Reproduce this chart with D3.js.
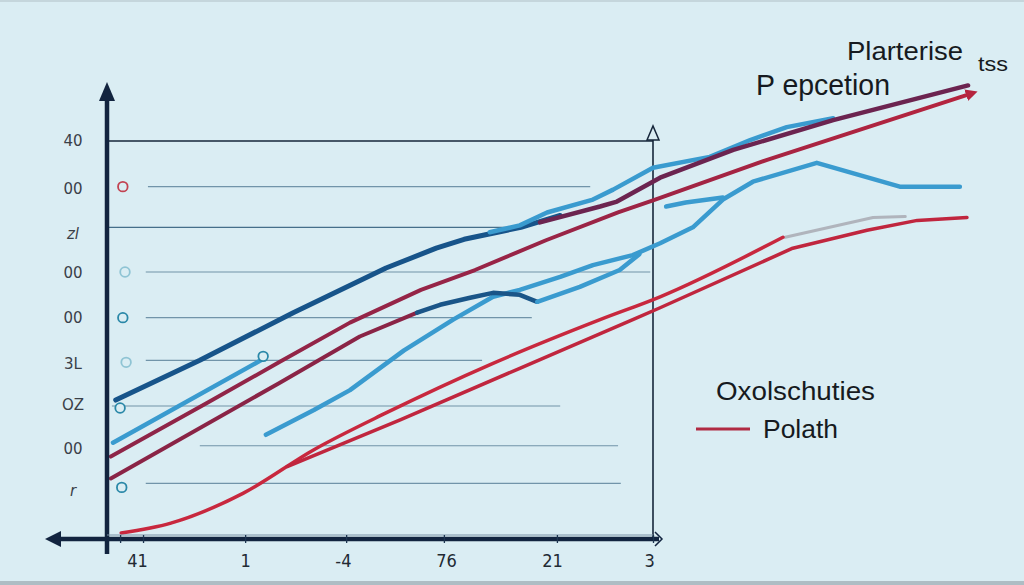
<!DOCTYPE html>
<html><head><meta charset="utf-8">
<script src="https://cdn.jsdelivr.net/npm/d3@7"></script>
<style>
html,body{margin:0;padding:0;background:#daedf3;}
svg{display:block;}
</style></head>
<body><svg id="c" width="1024" height="585"></svg>
<script>
// ---------- data ----------
const yTickValues = [40, 35.2, 30.7, 26.7, 22.2, 17.6, 13.4, 9.0, 4.8];
const yTickLabels = ["40", "00", "zl", "00", "00", "3L", "OZ", "00", "r"];
const xTickValues = [2.4, 6.6, 25.3, 43.8, 61.7, 82.4, 100];
const xLabelValues = [5.5, 25.3, 43.2, 62.1, 81.5, 99.3];
const xTickLabels = ["41", "1", "-4", "76", "21", "3"];

const navyUpperX = [1.6, 17.0, 34.1, 51.1, 60.3, 65.4, 75.8, 83.0];
const navyUpperY = [13.9, 17.9, 22.7, 27.2, 29.2, 30.1, 31.3, 32.5];

const blueUpperX = [70.1, 75.6, 80.6, 89.0, 92.7, 100.0, 110.4, 117.8, 124.5, 133.0];
const blueUpperY = [30.8, 31.5, 32.8, 34.1, 35.1, 37.3, 38.4, 40.1, 41.4, 42.3];

const purpleX = [79.3, 90.3, 93.4, 101.3, 114.7, 133.0, 157.7];
const purpleY = [31.8, 33.4, 33.9, 36.3, 39.1, 42.1, 45.6];

const crimsonX = [0.7, 18.3, 31.5, 44.5, 57.5, 67.4, 80.4, 93.6, 100.4, 120.9, 158.4];
const crimsonY = [8.2, 13.6, 17.7, 21.7, 25.0, 27.0, 30.0, 32.8, 34.1, 38.1, 44.8];

const maroonLowX = [0.7, 31.5, 46.3, 56.8];
const maroonLowY = [6.0, 15.6, 20.3, 22.7];
const navyMidX = [56.8, 61.0, 66.5, 70.7, 75.6, 78.8];
const navyMidY = [22.7, 23.5, 24.2, 24.7, 24.5, 23.8];
const blueMidBX = [78.8, 86.6, 93.9, 97.5];
const blueMidBY = [23.8, 25.3, 27.0, 28.6];

const blueMidAX = [29.1, 37.9, 44.5, 54.4, 63.4, 70.7, 75.6, 83.0, 89.0, 96.3, 101.3, 107.3, 112.8, 118.3, 130.0, 145.2, 156.2];
const blueMidAY = [10.4, 12.9, 14.9, 18.9, 22.0, 24.3, 25.0, 26.3, 27.5, 28.5, 29.7, 31.3, 34.1, 35.9, 37.8, 35.4, 35.4];

const blueShortX = [1.1, 28.8];
const blueShortY = [9.6, 18.1];

const stubX = [102.4, 106.0, 112.8];
const stubY = [33.4, 33.8, 34.3];

const redAX = [2.6, 11.7, 24.9, 37.9, 51.1, 70.7, 90.3, 101.3, 123.8];
const redAY = [0.5, 1.5, 4.5, 8.9, 12.6, 17.6, 22.0, 24.3, 30.3];
const grayX = [124.2, 140.3, 146.2];
const grayY = [30.3, 32.3, 32.4];
const redBX = [33.0, 53.7, 75.6, 96.3, 101.3, 125.6, 139.2, 148.4, 157.5];
const redBY = [7.2, 11.9, 17.1, 22.0, 23.2, 29.2, 31.0, 32.0, 32.3];

const gridY = [35.4, 31.3, 26.8, 22.2, 17.9, 13.3, 9.3, 5.5];
const gridX0 = [7.5, 0, 7.1, 7.1, 7.1, 0.9, 17.0, 7.1];
const gridX1 = [88.5, 75.6, 99.5, 77.8, 68.7, 83.0, 93.6, 94.1];

const markerX = [2.9, 3.3, 2.9, 3.5, 2.4, 2.7, 28.6];
const markerY = [35.4, 26.8, 22.2, 17.7, 13.1, 5.1, 18.3];
const markerKind = ["red", "light", "teal", "light", "teal", "teal", "teal"];

const titleTexts = ["Plarterise", "tss", "P epcetion"];
const legendTexts = ["Oxolschuties", "Polath"];

// ---------- drawing ----------
const svg = d3.select("#c");
const x = d3.scaleLinear().domain([0, 100]).range([107, 653]);
const y = d3.scaleLinear().domain([0, 40]).range([538, 141]);
const font = "'Liberation Sans', Arial, sans-serif";

svg.append("rect").attr("width", 1024).attr("height", 585).attr("fill", "#daedf3");
svg.append("rect").attr("x", 0).attr("y", 0).attr("width", 1024).attr("height", 2).attr("fill", "#c5d6dc");
svg.append("rect").attr("x", 0).attr("y", 581).attr("width", 1024).attr("height", 4).attr("fill", "#aebdc4");

const defs = svg.append("defs");
const grad = defs.append("linearGradient").attr("id", "crim").attr("gradientUnits", "userSpaceOnUse")
  .attr("x1", x(0)).attr("x2", x(158)).attr("y1", 0).attr("y2", 0);
grad.append("stop").attr("offset", "0%").attr("stop-color", "#8e2548");
grad.append("stop").attr("offset", "55%").attr("stop-color", "#9a2446");
grad.append("stop").attr("offset", "100%").attr("stop-color", "#b5243e");
defs.append("marker").attr("id", "arr").attr("viewBox", "0 0 10 10").attr("refX", 5).attr("refY", 5)
  .attr("markerWidth", 3).attr("markerHeight", 3).attr("orient", "auto")
  .append("path").attr("d", "M0,0 L10,5 L0,10 z").attr("fill", "#b5243e");

// gridlines
const g = svg.append("g");
gridY.forEach((v, i) => {
  g.append("line").attr("x1", x(gridX0[i])).attr("x2", x(gridX1[i]))
    .attr("y1", y(v)).attr("y2", y(v))
    .attr("stroke", "#2c5a78").attr("stroke-width", i === 1 ? 1.4 : 1.1)
    .attr("opacity", i === 1 ? 0.85 : 0.6);
});
// top frame line and right vertical line
svg.append("line").attr("x1", x(0)).attr("x2", x(100)).attr("y1", y(40)).attr("y2", y(40))
  .attr("stroke", "#16263a").attr("stroke-width", 1.6);
svg.append("line").attr("x1", x(100)).attr("x2", x(100)).attr("y1", y(40) - 14).attr("y2", y(0) + 2)
  .attr("stroke", "#16263a").attr("stroke-width", 1.6);
svg.append("path")
  .attr("d", `M${x(100) - 6},${y(40) - 1} L${x(100)},${y(40) - 15} L${x(100) + 6},${y(40) - 1} Z`)
  .attr("fill", "#daedf3").attr("stroke", "#16263a").attr("stroke-width", 1.5);

// lines
const line = d3.line().x(d => x(d[0])).y(d => y(d[1]));
const smooth = d3.line().x(d => x(d[0])).y(d => y(d[1])).curve(d3.curveMonotoneX);
function draw(xs, ys, color, w, gen, extra) {
  const p = svg.append("path").datum(xs.map((v, i) => [v, ys[i]]))
    .attr("d", gen || line).attr("fill", "none").attr("stroke", color)
    .attr("stroke-width", w).attr("stroke-linejoin", "round").attr("stroke-linecap", "round");
  if (extra) extra(p);
  return p;
}
draw(grayX, grayY, "#b0b4bc", 3);
draw(redAX, redAY, "#c8283e", 3.5, smooth);
draw(redBX, redBY, "#c0263e", 3.5);
draw(blueMidAX, blueMidAY, "#3a9bcf", 4.5);
draw(stubX, stubY, "#3a9bcf", 4.5);
draw(maroonLowX, maroonLowY, "#8a2446", 4);
draw(navyMidX, navyMidY, "#1a5588", 4.5);
draw(blueMidBX, blueMidBY, "#3a9bcf", 4.5);
draw(crimsonX, crimsonY, "url(#crim)", 4, null, p => p.attr("marker-end", "url(#arr)"));
draw(blueShortX, blueShortY, "#3a9bcf", 4.5);
draw(navyUpperX, navyUpperY, "#17548a", 5);
draw(blueUpperX, blueUpperY, "#3a9bcf", 4.5);
draw(purpleX, purpleY, "#6c2450", 4.5);

// markers
const mColor = { red: "#c24352", light: "#8fc4d4", teal: "#2a88a8" };
markerX.forEach((v, i) => {
  svg.append("circle").attr("cx", x(v)).attr("cy", y(markerY[i])).attr("r", 4.8)
    .attr("fill", "#daedf3").attr("stroke", mColor[markerKind[i]]).attr("stroke-width", 1.8);
});

// y axis
svg.append("line").attr("x1", x(0)).attr("x2", x(0)).attr("y1", 98).attr("y2", y(0) + 16)
  .attr("stroke", "#12243f").attr("stroke-width", 4.5);
svg.append("path").attr("d", `M${x(0)},82 L${x(0) - 8},101 L${x(0) + 8},101 Z`).attr("fill", "#12243f");
const yAxis = d3.axisLeft(y).tickValues(yTickValues).tickSize(0).tickPadding(24)
  .tickFormat((d, i) => yTickLabels[i]);
const ya = svg.append("g").attr("transform", `translate(${x(0)},0)`).call(yAxis);
ya.select(".domain").remove();
ya.selectAll("text").attr("font-family", "'DejaVu Sans', sans-serif").attr("font-size", 15).attr("fill", "#3a4048")
  .attr("text-anchor", "middle").attr("dx", 0).attr("x", -34)
  .attr("font-style", (d, i) => (i === 2 || i === 8) ? "italic" : "normal");

// x axis
svg.append("line").attr("x1", 58).attr("x2", x(100) + 6).attr("y1", y(0) + 1).attr("y2", y(0) + 1)
  .attr("stroke", "#12243f").attr("stroke-width", 4.5);
svg.append("line").attr("x1", x(0)).attr("x2", x(100)).attr("y1", y(0) - 3).attr("y2", y(0) - 3)
  .attr("stroke", "#7c93a6").attr("stroke-width", 1);
svg.append("path").attr("d", `M45,${y(0) + 1} L61,${y(0) - 7} L61,${y(0) + 9} Z`).attr("fill", "#12243f");
svg.append("path").attr("d", `M${x(100) + 2},${y(0) - 6} L${x(100) + 9},${y(0) + 1} L${x(100) + 2},${y(0) + 8}`)
  .attr("fill", "none").attr("stroke", "#12243f").attr("stroke-width", 1.5);
const xTickAxis = d3.axisBottom(x).tickValues(xTickValues).tickSize(8).tickFormat("");
const xt = svg.append("g").attr("transform", `translate(0,${y(0) - 3})`).call(xTickAxis);
xt.select(".domain").remove();
xt.selectAll("line").attr("stroke", "#1d3550").attr("stroke-width", 1.3);
const xLabAxis = d3.axisBottom(x).tickValues(xLabelValues).tickSize(0).tickPadding(16)
  .tickFormat((d, i) => xTickLabels[i]);
const xl = svg.append("g").attr("transform", `translate(0,${y(0)})`).call(xLabAxis);
xl.select(".domain").remove();
xl.selectAll("text").attr("font-family", "'DejaVu Sans Condensed','Liberation Sans Narrow',sans-serif")
  .attr("font-size", 18).attr("fill", "#222a33");

// titles
svg.append("text").attr("x", 847).attr("y", 60).text(titleTexts[0])
  .attr("font-family", font).attr("font-size", 25).attr("fill", "#161a20")
  .attr("textLength", 116).attr("lengthAdjust", "spacingAndGlyphs");
svg.append("text").attr("x", 978).attr("y", 71).text(titleTexts[1])
  .attr("font-family", font).attr("font-size", 20).attr("fill", "#161a20")
  .attr("textLength", 30).attr("lengthAdjust", "spacingAndGlyphs");
svg.append("text").attr("x", 756).attr("y", 95).text(titleTexts[2])
  .attr("font-family", font).attr("font-size", 29).attr("fill", "#161a20")
  .attr("textLength", 134).attr("lengthAdjust", "spacingAndGlyphs");

// legend
svg.append("text").attr("x", 716).attr("y", 400).text(legendTexts[0])
  .attr("font-family", font).attr("font-size", 25).attr("fill", "#161a20")
  .attr("textLength", 159).attr("lengthAdjust", "spacingAndGlyphs");
svg.append("line").attr("x1", 696).attr("x2", 750).attr("y1", 429).attr("y2", 429)
  .attr("stroke", "#b02a42").attr("stroke-width", 3);
svg.append("text").attr("x", 763).attr("y", 438).text(legendTexts[1])
  .attr("font-family", font).attr("font-size", 26).attr("fill", "#161a20")
  .attr("textLength", 75).attr("lengthAdjust", "spacingAndGlyphs");
</script></body></html>
